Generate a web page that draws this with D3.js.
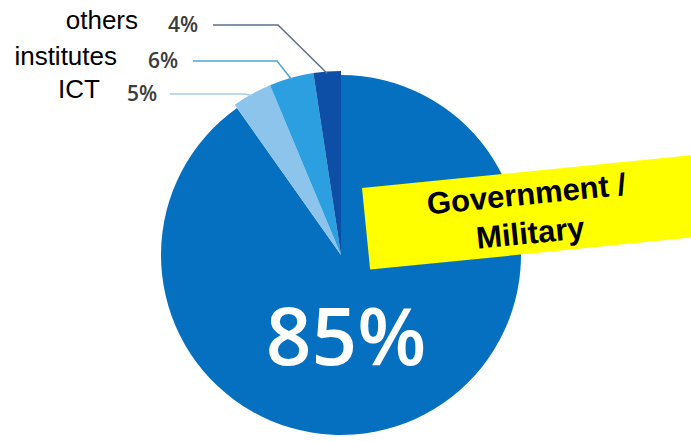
<!DOCTYPE html>
<html>
<head>
<meta charset="utf-8">
<script src="https://cdn.jsdelivr.net/npm/d3@7"></script>
<style>
    body {
        margin: 0;
        background-color: #ffffff;
    }

    .name {
        font-family: "Liberation Sans", Arial, sans-serif;
        font-size: 26px;
        fill: #000;
    }

    .pct {
        font-family: "Open Sans", sans-serif;
        font-weight: 600;
        font-size: 21px;
        fill: #3c3c3c;
    }

    .big {
        font-family: "Open Sans", sans-serif;
        font-weight: 600;
        font-size: 80px;
        fill: #ffffff;
    }

    .tag {
        font-family: "Liberation Sans", Arial, sans-serif;
        font-weight: bold;
        font-size: 31px;
        fill: #000;
    }
</style>
</head>
<body>
<svg width="691" height="442"></svg>
<script>

    // slices, clockwise from 12 o'clock
    var categories = ["Government / Military", "ICT", "institutes", "others"];
    // percentages printed on the chart
    var printedPct = [85, 5, 6, 4];
    // slice sizes as actually drawn in the picture (the small ones are drawn narrower than printed)
    var drawnShare = [90.2, 3.5, 3.9, 2.4];
    var colors = ["#0570c0", "#8cc4ec", "#2c9fe0", "#0d4fa6"];
    var lineColors = [null, "#a9cde9", "#4aa6dc", "#5b6f8c"];

    var svg = d3.select("svg");
    var cx = 341, cy = 255, r = 180;

    var pie = d3.pie().sort(null).value(function (d) { return d.share; });
    var data = categories.map(function (c, i) {
        return {name: c, share: drawnShare[i], pct: printedPct[i], color: colors[i], line: lineColors[i]};
    });
    var arcs = pie(data);

    var g = svg.append("g")
        .attr("transform", "translate(" + cx + "," + cy + ")");

    g.selectAll("path.slice")
        .data(arcs)
        .enter().append("path")
        .attr("class", "slice")
        .attr("fill", function (d) { return d.data.color; })
        .attr("d", function (d, i) {
            // the small slices stick out a little past the big one
            return d3.arc().innerRadius(0).outerRadius(i === 0 ? r : r + 4)(d);
        });

    // big label in the main slice
    g.append("text")
        .attr("class", "big")
        .attr("x", 5)
        .attr("y", 110)
        .attr("text-anchor", "middle")
        .text(printedPct[0] + "%");

    // labels for the small slices, stacked top-left
    var layout = {
        "others":     {y: 25, nameEnd: 138, pctX: 168, lineX: 213, elbowX: 278},
        "institutes": {y: 61, nameEnd: 117, pctX: 148, lineX: 193, elbowX: 277},
        "ICT":        {y: 94, nameEnd: 100, pctX: 127, lineX: 170, elbowX: 245}
    };

    arcs.slice(1).forEach(function (d) {
        var L = layout[d.data.name];
        var mid = (d.startAngle + d.endAngle) / 2;
        var ex = cx + (r + 2) * Math.sin(mid);
        var ey = cy - (r + 2) * Math.cos(mid);

        svg.append("polyline")
            .attr("points", [[L.lineX, L.y], [L.elbowX, L.y], [ex, ey]].join(" "))
            .attr("fill", "none")
            .attr("stroke", d.data.line)
            .attr("stroke-width", 1.5);

        svg.append("text")
            .attr("class", "pct")
            .attr("x", L.pctX)
            .attr("y", L.y + 7)
            .text(d.data.pct + "%");

        svg.append("text")
            .attr("class", "name")
            .attr("x", L.nameEnd)
            .attr("y", L.y + 4)
            .attr("text-anchor", "end")
            .text(d.data.name);
    });

    // yellow tag, slightly tilted
    var tag = svg.append("g")
        .attr("transform", "translate(362,188) rotate(-5.7)");

    tag.append("rect")
        .attr("width", 340)
        .attr("height", 82)
        .attr("fill", "#ffff00");

    var tagLines = categories[0].replace(" / ", " /|").split("|");
    tag.selectAll("text.tag")
        .data(tagLines)
        .enter().append("text")
        .attr("class", "tag")
        .attr("x", 163)
        .attr("y", function (d, i) { return 33 + i * 39; })
        .attr("text-anchor", "middle")
        .text(function (d) { return d; });

</script>
</body>
</html>
